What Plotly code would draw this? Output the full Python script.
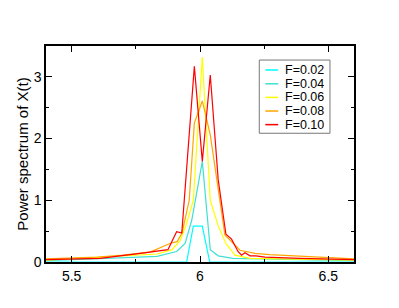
import plotly.graph_objects as go

# ---------------- data ----------------
names = ["F=0.02", "F=0.04", "F=0.06", "F=0.08", "F=0.10"]
colors = ["#00ffff", "#40e0d0", "#ffff00", "#ffa500", "#ff0000"]

x_f002 = [5.40, 5.948, 5.974, 6.009, 6.038, 6.60]
y_f002 = [0.0, 0.0, 0.58, 0.58, 0.0, 0.0]

x_f004 = [5.40, 5.833, 5.909, 5.942, 5.968, 6.009, 6.040, 6.071, 6.128, 6.60]
y_f004 = [0.02, 0.09, 0.17, 0.30, 0.68, 1.63, 0.20, 0.10, 0.06, 0.02]

x_f006 = [5.40, 5.833, 5.891, 5.922, 5.946, 5.974, 6.009, 6.040, 6.070, 6.101, 6.136, 6.195, 6.60]
y_f006 = [0.03, 0.13, 0.20, 0.34, 0.60, 1.00, 3.32, 1.00, 0.60, 0.30, 0.11, 0.06, 0.03]

x_f008 = [5.40, 5.60, 5.70, 5.805, 5.883, 5.911, 5.930, 5.958, 5.978, 6.009, 6.040, 6.070, 6.097, 6.156, 6.214, 6.272, 6.545, 6.60]
y_f008 = [0.05, 0.08, 0.11, 0.16, 0.30, 0.33, 0.47, 1.00, 2.25, 2.61, 2.06, 1.17, 0.44, 0.19, 0.14, 0.12, 0.06, 0.05]

x_f010 = [5.40, 5.611, 5.767, 5.833, 5.875, 5.909, 5.929, 5.978, 6.009, 6.040, 6.071, 6.101, 6.123, 6.148, 6.162, 6.175, 6.195, 6.218, 6.253, 6.389, 6.60]
y_f010 = [0.04, 0.06, 0.14, 0.18, 0.20, 0.49, 0.47, 3.17, 1.63, 3.03, 1.33, 0.45, 0.37, 0.17, 0.11, 0.15, 0.10, 0.10, 0.08, 0.06, 0.04]

xs = [x_f002, x_f004, x_f006, x_f008, x_f010]
ys = [y_f002, y_f004, y_f006, y_f008, y_f010]

x_ticks = [5.5, 6.0, 6.5]
x_ticktext = ["5.5", "6", "6.5"]
x_minor = [5.75, 6.25]
y_ticks = [0, 1, 2, 3]
y_ticktext = ["0", "1", "2", "3"]
y_minor = [0.5, 1.5, 2.5]

FONT = "Liberation Sans, Arial, sans-serif"

fig = go.Figure()
for x, y, n, c in zip(xs, ys, names, colors):
    fig.add_trace(go.Scatter(x=x, y=y, mode="lines", name=n,
                             line=dict(color=c, width=1.2), showlegend=False))

axis_common = dict(
    ticks="inside", ticklen=6, tickwidth=1, tickcolor="black",
    showline=True, linecolor="black", linewidth=1.5, mirror="allticks",
    showgrid=False, zeroline=False,
    tickfont=dict(family=FONT, size=14, color="black"),
)

fig.update_xaxes(range=[5.4, 6.6], tickmode="array", tickvals=x_ticks, ticktext=x_ticktext,
                 minor=dict(tickvals=x_minor, ticks="inside", ticklen=3, tickcolor="black"),
                 **axis_common)
fig.update_yaxes(range=[0, 3.5], tickmode="array", tickvals=y_ticks, ticktext=y_ticktext,
                 minor=dict(tickvals=y_minor, ticks="inside", ticklen=3, tickcolor="black"),
                 title=dict(text="Power spectrum of X(t)", font=dict(family=FONT, size=15, color="black"),
                            standoff=1),
                 **axis_common)

# manual legend (compact, like the reference)
box_x0, box_x1, box_y0, box_y1 = 0.6925, 0.922, 0.596, 0.935
fig.add_shape(type="rect", xref="paper", yref="paper", x0=box_x0, x1=box_x1, y0=box_y0, y1=box_y1,
              line=dict(color="#777777", width=1), fillcolor="white", layer="above")
row_y = [0.889, 0.825, 0.762, 0.699, 0.636]
for ry, n, c in zip(row_y, names, colors):
    fig.add_shape(type="line", xref="paper", yref="paper", x0=0.712, x1=0.754, y0=ry, y1=ry,
                  line=dict(color=c, width=1.5), layer="above")
    fig.add_annotation(xref="paper", yref="paper", x=0.768, y=ry, text=n, showarrow=False,
                       xanchor="left", yanchor="middle", height=12,
                       font=dict(family=FONT, size=12.5, color="black"))

# page body has an 8px margin: shrink figure so the plot area lands where the reference has it
fig.update_layout(
    width=383, height=292,
    margin=dict(l=38, r=37, t=38, b=38),
    paper_bgcolor="white", plot_bgcolor="white",
    showlegend=False,
)

fig.write_html("out.html")
